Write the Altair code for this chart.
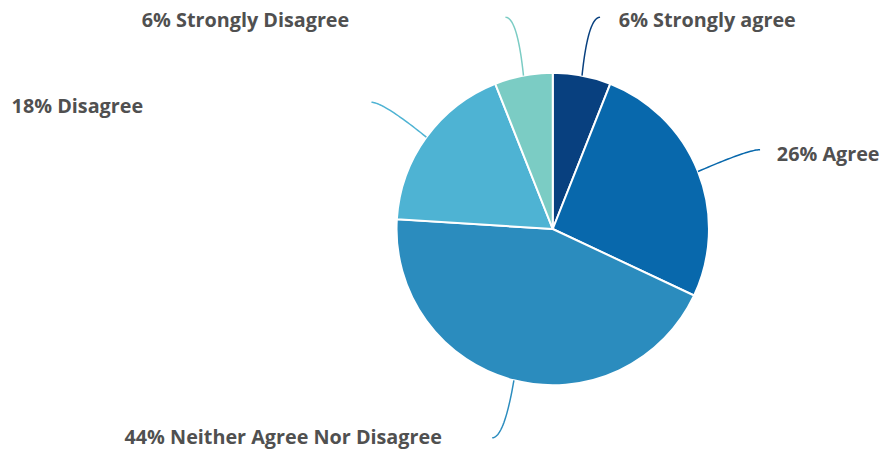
import altair as alt
import numpy as np
import pandas as pd

# ---- data ----
categories = ["Strongly agree", "Agree", "Neither Agree Nor Disagree", "Disagree", "Strongly Disagree"]
values = [6, 26, 44, 18, 6]
colors = ["#08407f", "#0868ac", "#2b8cbe", "#4eb3d3", "#7bccc4"]

# ---- layout (pixels, relative to pie centre, y up) ----
W, H = 872, 438
CX, CY = 551, 218          # pie centre inside the view
R_PIE = 158
R_END = 218
END_SHIFT = 7
label_dx = [19, 17, -51, -231, -158]
label_dy = [-4, -5, 0, -5, -4]

vals = np.array(values, dtype=float)
total = vals.sum()
cum = np.cumsum(vals) - vals / 2
mid = cum / total * 2 * np.pi

pie_df = pd.DataFrame({"cat": categories, "value": values, "idx": range(len(values)), "cx": 0.0, "cy": 0.0})

rows = []
lab_rows = []
for i, c in enumerate(categories):
    a = mid[i]
    side = 1 if np.sin(a) >= 0 else -1
    p0 = np.array([R_PIE * np.sin(a), R_PIE * np.cos(a)])
    p2 = np.array([R_END * np.sin(a) + side * END_SHIFT, R_END * np.cos(a)])
    p1 = np.array([p2[0] - side * 12, p2[1]])
    for t in np.linspace(0, 1, 30):
        p = (1 - t) ** 2 * p0 + 2 * (1 - t) * t * p1 + t ** 2 * p2
        rows.append({"cat": c, "t": t, "px": p[0], "py": p[1]})
    lab_rows.append({"cat": c, "label": f"{values[i]}% {c}", "lx": p2[0] + label_dx[i],
                     "ly": p2[1] + label_dy[i], "side": "right" if side > 0 else "left"})

line_df = pd.DataFrame(rows)
lab_df = pd.DataFrame(lab_rows)

xs = alt.Scale(domain=[-CX, W - CX], nice=False, zero=False)
ys = alt.Scale(domain=[-(H - CY), CY], nice=False, zero=False)
cs = alt.Scale(domain=categories, range=colors)

pie = alt.Chart(pie_df).mark_arc(outerRadius=R_PIE, stroke="white", strokeWidth=2).encode(
    theta=alt.Theta("value:Q", stack=True),
    order=alt.Order("idx:Q"),
    color=alt.Color("cat:N", scale=cs, legend=None),
    x=alt.X("cx:Q", scale=xs, axis=None),
    y=alt.Y("cy:Q", scale=ys, axis=None),
)

conn = alt.Chart(line_df).mark_line(strokeWidth=1.5).encode(
    x=alt.X("px:Q", scale=xs, axis=None),
    y=alt.Y("py:Q", scale=ys, axis=None),
    color=alt.Color("cat:N", scale=cs, legend=None),
    detail="cat:N",
    order="t:Q",
)

def labels(side, align):
    return alt.Chart(lab_df).transform_filter(alt.datum.side == side).mark_text(
        align=align, baseline="middle", font="Open Sans", fontSize=20, fontWeight="bold", color="#505050"
    ).encode(
        x=alt.X("lx:Q", scale=xs, axis=None),
        y=alt.Y("ly:Q", scale=ys, axis=None),
        text="label:N",
    )

chart = alt.layer(pie, conn, labels("right", "left"), labels("left", "right")).properties(
    width=W, height=H, padding=0
).configure_view(stroke=None)

chart.save("out.html", embed_options={"renderer": "svg", "actions": False})
